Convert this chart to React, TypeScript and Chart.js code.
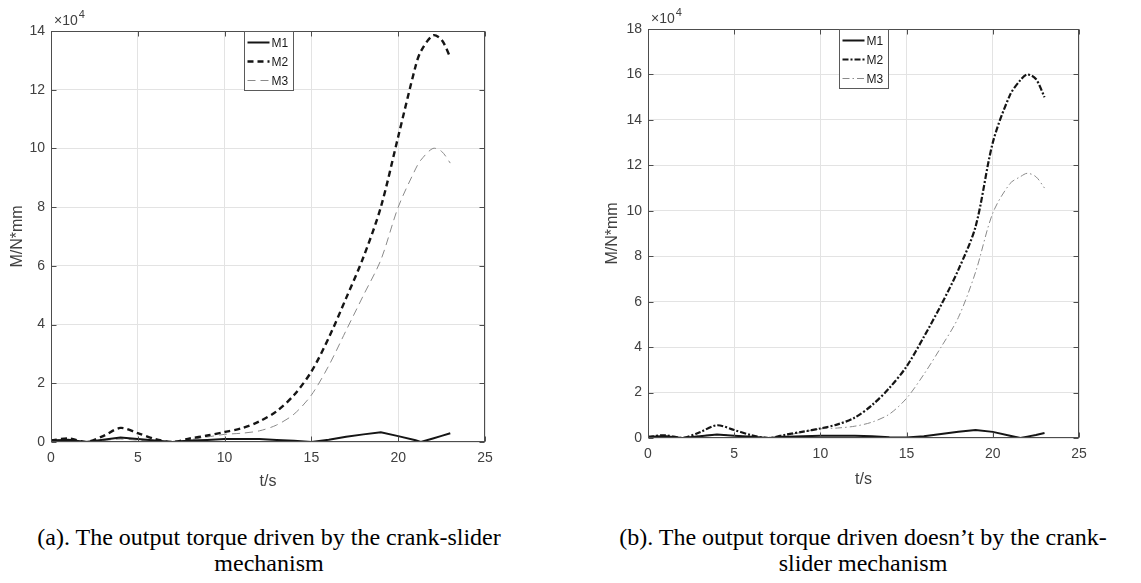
import React, { useEffect, useRef } from "react";
import { Chart, registerables } from "chart.js";

Chart.register(...registerables);

// ---------- data (values in units of 10^4 N*mm) ----------
const tA = [0, 1, 2, 3, 4, 5, 6, 7, 8, 9, 10, 11, 12, 13, 14, 15, 16, 17, 18, 19, 20, 21, 21.3, 22, 22.5, 23];
const m1A = [0.05, 0.08, 0.0, 0.08, 0.15, 0.1, 0.05, 0.0, 0.05, 0.07, 0.1, 0.1, 0.1, 0.07, 0.04, 0.0, 0.08, 0.18, 0.26, 0.33, 0.2, 0.06, 0.0, 0.12, 0.21, 0.3];
const m2A = [0.05, 0.12, 0.0, 0.2, 0.48, 0.3, 0.1, 0.0, 0.12, 0.22, 0.34, 0.47, 0.7, 1.05, 1.6, 2.4, 3.55, 4.9, 6.3, 8.0, 10.4, 12.8, 13.3, 13.85, 13.7, 13.1];
const m3A = [0.05, 0.08, 0.0, 0.05, 0.1, 0.06, 0.02, 0.0, 0.08, 0.17, 0.26, 0.3, 0.38, 0.58, 0.95, 1.6, 2.6, 3.8, 5.0, 6.2, 8.0, 9.3, 9.6, 10.0, 9.9, 9.5];

const tB = [0, 1, 2, 3, 4, 5, 6, 7, 8, 9, 10, 11, 12, 13, 14, 15, 16, 17, 18, 19, 20, 21, 21.6, 22, 22.5, 23];
const m1B = [0.05, 0.08, 0.0, 0.08, 0.15, 0.1, 0.05, 0.0, 0.05, 0.08, 0.1, 0.1, 0.1, 0.08, 0.03, 0.02, 0.08, 0.18, 0.27, 0.35, 0.27, 0.1, 0.0, 0.06, 0.13, 0.22];
const m2B = [0.05, 0.12, 0.0, 0.25, 0.56, 0.35, 0.12, 0.0, 0.15, 0.28, 0.42, 0.6, 0.9, 1.45, 2.2, 3.15, 4.45, 5.85, 7.4, 9.3, 13.0, 15.1, 15.75, 16.0, 15.8, 15.0];
const m3B = [0.05, 0.1, 0.0, 0.1, 0.15, 0.1, 0.05, 0.0, 0.12, 0.26, 0.4, 0.44, 0.52, 0.7, 1.05, 1.75, 2.8, 4.0, 5.3, 7.3, 9.9, 11.2, 11.5, 11.65, 11.5, 11.0];

const seriesNames = ["M1", "M2", "M3"];
const xTicks = [0, 5, 10, 15, 20, 25];
const yTicksA = [0, 2, 4, 6, 8, 10, 12, 14];
const yTicksB = [0, 2, 4, 6, 8, 10, 12, 14, 16, 18];
const xTitle = "t/s";
const yTitle = "M/N*mm";
const exponentText = "4";
const captionA = ["(a). The output torque driven by the crank-slider", "mechanism"];
const captionB = ["(b). The output torque driven doesn\u2019t by the crank-", "slider mechanism"];

const SANS = "'Liberation Sans', Arial, sans-serif";

type Style = { color: string; width: number; dash: number[]; tension: number };

type PlotProps = {
  left: number;
  width: number;
  height: number;
  t: number[];
  values: number[][];
  styles: Style[];
  yTicks: number[];
  padTop: number;
  padRight: number;
  padBottom: number;
  yWidth: number;
  xHeight: number;
  yTitlePad: number;
  xTitlePad: number;
};

function Plot(p: PlotProps) {
  const ref = useRef<HTMLCanvasElement | null>(null);
  useEffect(() => {
    if (!ref.current) return;
    const frame = {
      id: "matlabFrame",
      afterDatasetsDraw(chart: any) {
        const { ctx, chartArea: a, scales } = chart;
        const xs = scales.x;
        const ys = scales.y;
        ctx.save();
        const L = Math.round(a.left) + 0.5;
        const T = Math.round(a.top) + 0.5;
        const R = Math.round(a.right) - 0.5;
        const B = Math.round(a.bottom) - 0.5;
        ctx.strokeStyle = "#4d4d4d";
        ctx.lineWidth = 1;
        ctx.setLineDash([]);
        ctx.strokeRect(L, T, R - L, B - T);
        ctx.beginPath();
        xs.ticks.forEach((tk: any) => {
          const px = Math.round(xs.getPixelForValue(tk.value)) + 0.5;
          ctx.moveTo(px, B);
          ctx.lineTo(px, B - 5);
          ctx.moveTo(px, T);
          ctx.lineTo(px, T + 5);
        });
        ys.ticks.forEach((tk: any) => {
          const py = Math.round(ys.getPixelForValue(tk.value)) + 0.5;
          ctx.moveTo(L, py);
          ctx.lineTo(L + 5, py);
          ctx.moveTo(R, py);
          ctx.lineTo(R - 5, py);
        });
        ctx.stroke();

        // exponent label
        ctx.fillStyle = "#404040";
        ctx.textBaseline = "alphabetic";
        ctx.textAlign = "left";
        ctx.font = `14px ${SANS}`;
        const baseText = "\u00d710";
        ctx.fillText(baseText, a.left + 3, a.top - 6);
        const w = ctx.measureText(baseText).width;
        ctx.font = `11px ${SANS}`;
        ctx.fillText(exponentText, a.left + 4 + w, a.top - 13);

        // legend
        const lw = 49;
        const lh = 59;
        const lx = Math.round((a.left + a.right) / 2 - lw / 2) + 0.5;
        const ly = Math.round(a.top) + 0.5;
        ctx.fillStyle = "#ffffff";
        ctx.fillRect(lx, ly, lw, lh);
        ctx.strokeStyle = "#5a5a5a";
        ctx.lineWidth = 1;
        ctx.strokeRect(lx, ly, lw, lh);
        ctx.font = `12px ${SANS}`;
        ctx.textBaseline = "middle";
        seriesNames.forEach((name, i) => {
          const st = p.styles[i];
          const yy = ly + 11 + i * 19;
          ctx.beginPath();
          ctx.strokeStyle = st.color;
          ctx.lineWidth = st.width;
          ctx.setLineDash(st.dash);
          ctx.moveTo(lx + 3, yy);
          ctx.lineTo(lx + 25, yy);
          ctx.stroke();
          ctx.setLineDash([]);
          ctx.fillStyle = "#1a1a1a";
          ctx.fillText(name, lx + 27, yy + 1);
        });
        ctx.restore();
      },
    };

    const datasets = p.values.map((vals, i) => ({
      label: seriesNames[i],
      data: p.t.map((x, k) => ({ x, y: vals[k] })),
      borderColor: p.styles[i].color,
      borderWidth: p.styles[i].width,
      borderDash: p.styles[i].dash,
      pointRadius: 0,
      fill: false,
      tension: p.styles[i].tension,
      order: i,
    }));

    const chart = new Chart(ref.current, {
      type: "line",
      data: { datasets },
      options: {
        responsive: false,
        animation: false,
        layout: { padding: { top: p.padTop, right: p.padRight, bottom: p.padBottom, left: 0 } },
        plugins: { legend: { display: false }, tooltip: { enabled: false } },
        scales: {
          x: {
            type: "linear",
            min: xTicks[0],
            max: xTicks[xTicks.length - 1],
            afterBuildTicks: (s: any) => {
              s.ticks = xTicks.map((v) => ({ value: v }));
            },
            afterFit: (s: any) => {
              s.height = p.xHeight;
            },
            ticks: { color: "#404040", font: { family: SANS, size: 14 }, padding: 8, maxRotation: 0 },
            grid: { color: "#e3e3e3", lineWidth: 1, drawTicks: false },
            border: { display: false },
            title: {
              display: true,
              text: xTitle,
              color: "#404040",
              font: { family: SANS, size: 16 },
              padding: { top: 0, bottom: p.xTitlePad },
            },
          },
          y: {
            type: "linear",
            min: p.yTicks[0],
            max: p.yTicks[p.yTicks.length - 1],
            afterBuildTicks: (s: any) => {
              s.ticks = p.yTicks.map((v) => ({ value: v }));
            },
            afterFit: (s: any) => {
              s.width = p.yWidth;
            },
            ticks: { color: "#404040", font: { family: SANS, size: 14 }, padding: 6 },
            grid: { color: "#e3e3e3", lineWidth: 1, drawTicks: false },
            border: { display: false },
            title: {
              display: true,
              text: yTitle,
              color: "#404040",
              font: { family: SANS, size: 16 },
              padding: { top: p.yTitlePad, bottom: 0 },
            },
          },
        },
      },
      plugins: [frame],
    });
    return () => chart.destroy();
  }, []);
  return (
    <canvas
      ref={ref}
      width={p.width}
      height={p.height}
      style={{ position: "absolute", left: p.left, top: 0, width: p.width, height: p.height }}
    />
  );
}

const stylesA: Style[] = [
  { color: "#151515", width: 2, dash: [], tension: 0 },
  { color: "#151515", width: 2.4, dash: [6, 4], tension: 0.3 },
  { color: "#8a8a8a", width: 1, dash: [8, 5], tension: 0.3 },
];
const stylesB: Style[] = [
  { color: "#151515", width: 2, dash: [], tension: 0 },
  { color: "#151515", width: 2.2, dash: [6, 2, 2, 2], tension: 0.3 },
  { color: "#8a8a8a", width: 1, dash: [7, 3, 1.5, 3], tension: 0.3 },
];

const captionStyle: React.CSSProperties = {
  position: "absolute",
  top: 524,
  fontFamily: "'Liberation Serif', 'Times New Roman', serif",
  fontSize: 24,
  lineHeight: "26px",
  color: "#000",
  textAlign: "center",
  whiteSpace: "nowrap",
};

export default function App() {
  return (
    <div
      style={{
        position: "fixed",
        left: 0,
        top: 0,
        width: 1141,
        height: 583,
        overflow: "hidden",
        background: "#fff",
      }}
    >
      <Plot
        left={0}
        width={560}
        height={500}
        t={tA}
        values={[m1A, m2A, m3A]}
        styles={stylesA}
        yTicks={yTicksA}
        padTop={31}
        padRight={75}
        padBottom={6}
        yWidth={51}
        xHeight={52}
        yTitlePad={8}
        xTitlePad={3}
      />
      <Plot
        left={570}
        width={571}
        height={500}
        t={tB}
        values={[m1B, m2B, m3B]}
        styles={stylesB}
        yTicks={yTicksB}
        padTop={29}
        padRight={62}
        padBottom={10}
        yWidth={78}
        xHeight={52}
        yTitlePad={33}
        xTitlePad={1}
      />
      <div style={{ ...captionStyle, left: 0, width: 538 }}>
        {captionA[0]}
        <br />
        {captionA[1]}
      </div>
      <div style={{ ...captionStyle, left: 563, width: 600 }}>
        {captionB[0]}
        <br />
        {captionB[1]}
      </div>
    </div>
  );
}
